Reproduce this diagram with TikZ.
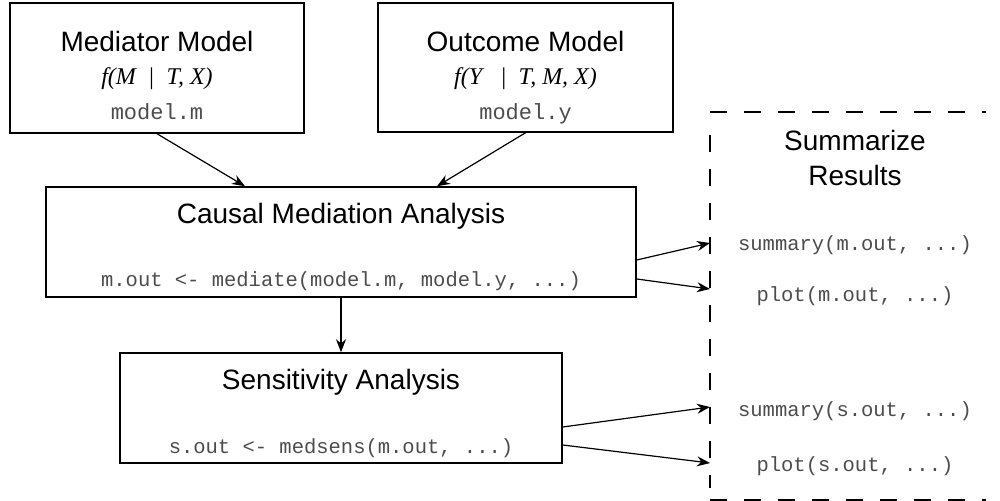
\documentclass[tikz,border=0pt]{standalone}
\usepackage{fontspec}
\setmainfont{Liberation Serif}
\setsansfont{Liberation Sans}
\setmonofont{Liberation Mono}
\usetikzlibrary{arrows.meta}

\newcommand\titlefnt{\sffamily\fontsize{14}{17}\selectfont}
\newcommand\formfnt{\rmfamily\itshape\fontsize{12}{14}\selectfont}
\newcommand\modfnt{\ttfamily\fontsize{11}{13}\selectfont}
\newcommand\codefnt{\ttfamily\fontsize{10.25}{12}\selectfont}

\tikzset{box/.style={draw, rectangle, line width=0.75pt, inner sep=0pt}}
\tikzset{arr/.style={-{Stealth[length=6.5pt,width=5pt]}, line width=0.6pt}}
\tikzset{sumframe/.style={dash pattern=on 8.5pt off 8.5pt, line width=1pt}}

\begin{document}
\begin{tikzpicture}[x=0.5pt, y=-0.5pt]
\tikzstyle{ttl}=[anchor=base, inner sep=0pt, font=\titlefnt]
\tikzstyle{frm}=[anchor=base, inner sep=0pt, font=\formfnt]
\tikzstyle{mdl}=[anchor=base, inner sep=0pt, font=\modfnt, text=black!70]
\tikzstyle{cde}=[anchor=base, inner sep=0pt, font=\codefnt, text=black!70]
\useasboundingbox (0,0) rectangle (1000,501);

% models
\node[box, minimum width=147pt, minimum height=65pt] (med) at (157,68) {};
\node[ttl] (medT) at (157,52) {Mediator Model};
\node[frm] (medF) at (157,85) {f(M\enspace|\enspace T, X)};
\node[mdl] (medC) at (157,120) {model.m};

\node[box, minimum width=147.5pt, minimum height=64.5pt] (out) at (525.5,67.5) {};
\node[ttl] (outT) at (525.5,52) {Outcome Model};
\node[frm] (outF) at (525.5,85) {f(Y\enspace\ |\enspace T, M, X)};
\node[mdl] (outC) at (525.5,120) {model.y};

% analysis
\node[box, minimum width=295pt, minimum height=55pt] (cma) at (341,242) {};
\node[ttl] (cmaT) at (341,224) {Causal Mediation Analysis};
\node[cde] (cmaC) at (341,287) {m.out <- mediate(model.m, model.y, ...)};

\node[box, minimum width=221pt, minimum height=55pt] (sens) at (341,408) {};
\node[ttl] (sensT) at (341,390) {Sensitivity Analysis};
\node[cde] (sensC) at (341,453) {s.out <- medsens(m.out, ...)};

% summarize
\draw[sumframe] (710,112) -- (986,112);
\draw[sumframe, line width=0.6pt] (710,135) -- (710,488);
\draw[sumframe] (710,499.5) -- (986,499.5);
\node[ttl] (sumT1) at (855,151) {Summarize};
\node[ttl] (sumT2) at (855,186) {Results};
\node[cde] (sumM) at (855,251) {summary(m.out, ...)};
\node[cde] (plotM) at (855,302) {plot(m.out, ...)};
\node[cde] (sumS) at (855,417) {summary(s.out, ...)};
\node[cde] (plotS) at (855,472) {plot(s.out, ...)};
\coordinate (inM1) at (710,243);
\coordinate (inM2) at (710,289);
\coordinate (inS1) at (710,407);
\coordinate (inS2) at (710,463);

\draw[arr] (med.south) -- ([xshift=-48pt]cma.north);
\draw[arr] (out.south) -- ([xshift=48pt]cma.north);
\draw[arr] (cma.south) -- (sens.north);
\draw[arr] ([yshift=-9pt]cma.east) -- (inM1);
\draw[arr] ([yshift=-18.5pt]cma.east) -- (inM2);
\draw[arr] ([yshift=-9.5pt]sens.east) -- (inS1);
\draw[arr] ([yshift=-18.5pt]sens.east) -- (inS2);
\end{tikzpicture}
\end{document}
